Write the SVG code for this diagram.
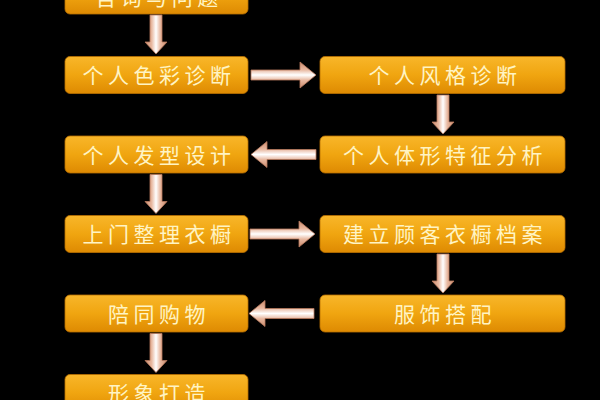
<svg xmlns="http://www.w3.org/2000/svg" width="600" height="400" viewBox="0 0 600 400">
<defs>
<linearGradient id="boxg" x1="0" y1="0" x2="0" y2="1">
<stop offset="0" stop-color="#f8b62a"/>
<stop offset="0.5" stop-color="#f0a510"/>
<stop offset="1" stop-color="#de8a02"/>
</linearGradient>
<linearGradient id="arrH" x1="0" y1="0" x2="0" y2="1">
<stop offset="0" stop-color="#c98a6c"/>
<stop offset="0.3" stop-color="#e8b8a0"/>
<stop offset="0.5" stop-color="#ffffff"/>
<stop offset="0.7" stop-color="#e8b8a0"/>
<stop offset="1" stop-color="#c98a6c"/>
</linearGradient>
<linearGradient id="arrV" x1="0" y1="0" x2="1" y2="0">
<stop offset="0" stop-color="#c98a6c"/>
<stop offset="0.3" stop-color="#e8b8a0"/>
<stop offset="0.5" stop-color="#ffffff"/>
<stop offset="0.7" stop-color="#e8b8a0"/>
<stop offset="1" stop-color="#c98a6c"/>
</linearGradient>
<path id="ah" d="M0,-5 H49 V-13 L65,0 L49,13 V5 H0 Z"/>
<path id="av" d="M-6,0 V27 H-11 L0,39 L11,27 H6 V0 Z"/>
</defs>
<style>
.box{fill:url(#boxg);stroke:#b86e00;stroke-width:0.8}
.lbl{font-family:"Noto Sans CJK SC","Noto Sans CJK TC",sans-serif;font-size:21px;fill:#fff4c4;letter-spacing:4.5px;text-anchor:middle}
.ah{fill:url(#arrH);stroke:#b87a5e;stroke-width:0.8}
.av{fill:url(#arrV);stroke:#b87a5e;stroke-width:0.8}
</style>
<rect x="0" y="0" width="600" height="400" fill="#000"/>

<g id="n1"><rect class="box" x="65" y="-23" width="183" height="37" rx="5"/><text class="lbl" x="159" y="5">咨询与问题</text></g>
<g id="n2"><rect class="box" x="65" y="56.5" width="183" height="37" rx="5"/><text class="lbl" x="159" y="83">个人色彩诊断</text></g>
<g id="n3"><rect class="box" x="320" y="56.5" width="245" height="37" rx="5"/><text class="lbl" x="445" y="83">个人风格诊断</text></g>
<g id="n4"><rect class="box" x="320" y="136" width="245" height="37" rx="5"/><text class="lbl" x="445" y="162.5">个人体形特征分析</text></g>
<g id="n5"><rect class="box" x="65" y="136" width="183" height="37" rx="5"/><text class="lbl" x="159" y="162.5">个人发型设计</text></g>
<g id="n6"><rect class="box" x="65" y="215.5" width="183" height="37" rx="5"/><text class="lbl" x="159" y="242">上门整理衣橱</text></g>
<g id="n7"><rect class="box" x="320" y="215.5" width="245" height="37" rx="5"/><text class="lbl" x="445" y="242">建立顾客衣橱档案</text></g>
<g id="n8"><rect class="box" x="320" y="295" width="245" height="37" rx="5"/><text class="lbl" x="445" y="321.5">服饰搭配</text></g>
<g id="n9"><rect class="box" x="65" y="295" width="183" height="37" rx="5"/><text class="lbl" x="159" y="321.5">陪同购物</text></g>
<g id="n10"><rect class="box" x="65" y="374.5" width="183" height="37" rx="5"/><text class="lbl" x="159" y="401">形象打造</text></g>

<g id="connectors">
<use href="#av" class="av" x="156" y="15"/>
<use href="#ah" class="ah" x="251" y="75"/>
<use href="#av" class="av" x="443" y="95"/>
<use href="#ah" class="ah" transform="translate(316,154.5) scale(-1,1)"/>
<use href="#av" class="av" x="156" y="174.5"/>
<use href="#ah" class="ah" x="250" y="234"/>
<use href="#av" class="av" x="443" y="254"/>
<use href="#ah" class="ah" transform="translate(314,313.5) scale(-1,1)"/>
<use href="#av" class="av" x="156" y="333.5"/>
</g>
</svg>
